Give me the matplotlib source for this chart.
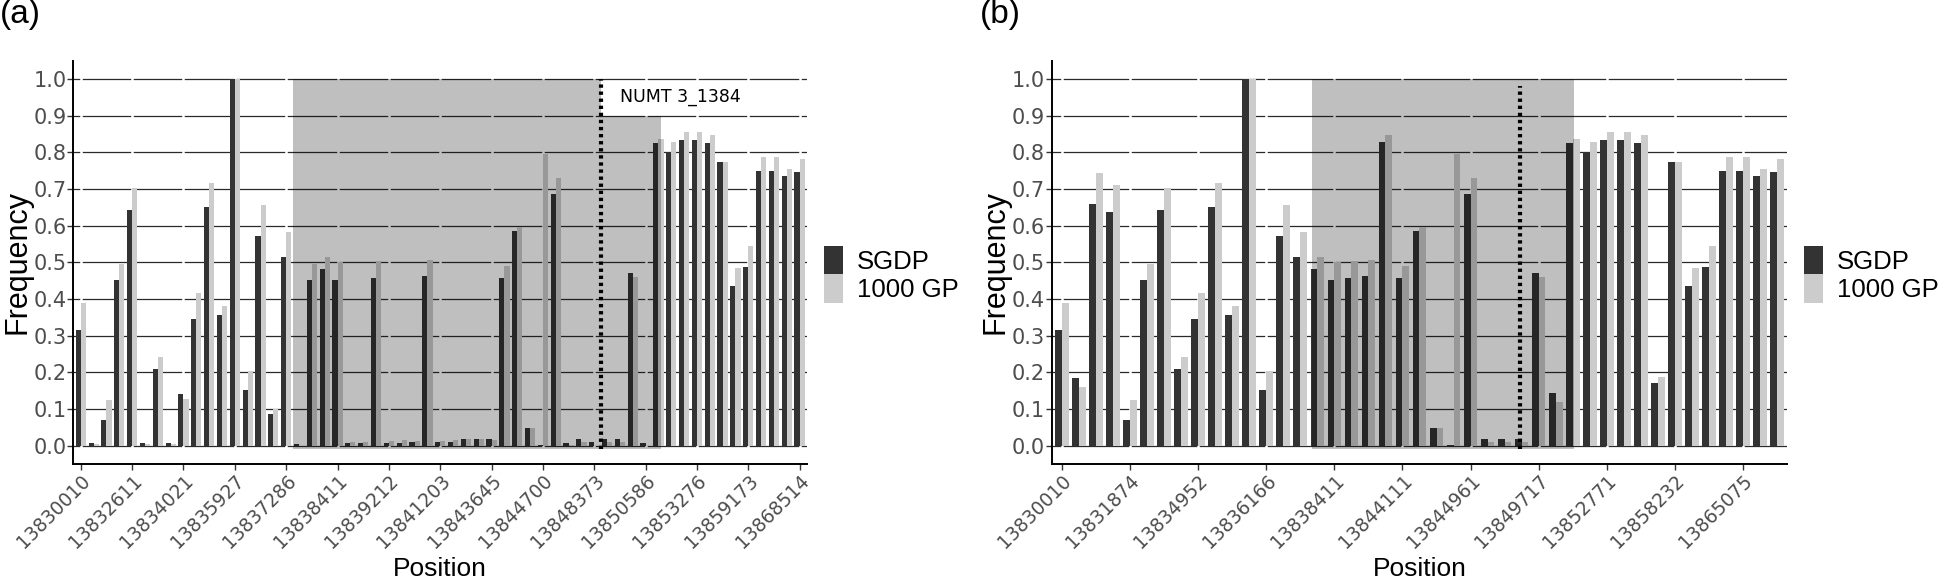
import numpy as np
import matplotlib
matplotlib.use("Agg")
import matplotlib.pyplot as plt
from matplotlib.patches import Rectangle

plt.rcParams["font.family"] = ["Liberation Sans", "DejaVu Sans"]

# ---------------------------------------------------------------------------
# Data
# ---------------------------------------------------------------------------

# panel (a): 57 positions, tick label on every 4th
a_ticklabels = ["13830010", "13832611", "13834021", "13835927", "13837286",
                "13838411", "13839212", "13841203", "13843645", "13844700",
                "13848373", "13850586", "13853276", "13859173", "13868514"]
a_sgdp = [0.315, 0.006, 0.07, 0.452, 0.642, 0.006, 0.208, 0.006, 0.14, 0.345,
          0.651, 0.355, 1.0, 0.152, 0.572, 0.086, 0.515, 0.003, 0.452, 0.482,
          0.452, 0.008, 0.008, 0.457, 0.008, 0.008, 0.01, 0.463, 0.01, 0.01,
          0.018, 0.018, 0.018, 0.456, 0.585, 0.047, 0.002, 0.685, 0.006, 0.018,
          0.009, 0.018, 0.018, 0.47, 0.006, 0.826, 0.80, 0.834, 0.834, 0.825,
          0.774, 0.435, 0.486, 0.748, 0.749, 0.734, 0.746]
a_1kgp = [0.39, 0.005, 0.124, 0.495, 0.702, 0.005, 0.242, 0.005, 0.126, 0.415,
          0.716, 0.381, 1.0, 0.203, 0.655, 0.099, 0.582, 0.0, 0.494, 0.515,
          0.50, 0.01, 0.01, 0.504, 0.012, 0.015, 0.013, 0.505, 0.013, 0.016,
          0.018, 0.018, 0.015, 0.489, 0.597, 0.047, 0.794, 0.731, 0.002, 0.01,
          0.0, 0.01, 0.01, 0.46, 0.0, 0.836, 0.827, 0.855, 0.855, 0.847,
          0.774, 0.485, 0.545, 0.787, 0.787, 0.755, 0.781]
a_region = (16.5, 45.2)      # shaded span (position index units)
a_boundary = 40.5            # dotted line
a_label = "NUMT 3_1384"

# panel (b): 43 positions
b_ticklabels = ["13830010", "13831874", "13834952", "13836166", "13838411",
                "13844111", "13844961", "13849717", "13852771", "13858232",
                "13865075"]
b_sgdp = [0.315, 0.184, 0.658, 0.637, 0.07, 0.452, 0.642, 0.208, 0.345, 0.651,
          0.355, 1.0, 0.152, 0.572, 0.515, 0.482, 0.452, 0.457, 0.463, 0.828,
          0.456, 0.585, 0.047, 0.002, 0.685, 0.018, 0.018, 0.017, 0.47, 0.143,
          0.826, 0.80, 0.834, 0.834, 0.825, 0.17, 0.774, 0.435, 0.486, 0.748,
          0.749, 0.734, 0.746]
b_1kgp = [0.39, 0.159, 0.743, 0.71, 0.124, 0.495, 0.702, 0.242, 0.415, 0.716,
          0.381, 1.0, 0.203, 0.655, 0.582, 0.515, 0.5, 0.504, 0.505, 0.847,
          0.489, 0.597, 0.047, 0.794, 0.731, 0.01, 0.01, 0.01, 0.46, 0.118,
          0.836, 0.827, 0.855, 0.855, 0.847, 0.186, 0.774, 0.485, 0.545, 0.787,
          0.787, 0.755, 0.781]
b_region = (14.67, 30.05)
b_boundary = 26.9

DARK = "#333333"
LIGHT = "#cccccc"
TXT = "#4d4d4d"


def draw_panel(ax, sgdp, kgp, ticklabels, region, boundary,
               dot_top=1.0, label=None):
    n = len(sgdp)
    x = np.arange(n)
    ticks = x[::4]

    ax.set_xlim(-0.58, n - 0.44)
    ax.set_ylim(-0.05, 1.05)

    # horizontal grid, broken by white vertical lines at the ticks
    for yv in np.arange(0, 1.01, 0.1):
        ax.axhline(yv, color="#2a2a2a", lw=0.9, zorder=0.5)
    for t in ticks:
        ax.axvline(t, color="white", lw=1.8, zorder=0.6)

    ax.bar(x - 0.2, sgdp, 0.4, color=DARK, zorder=2, label="SGDP")
    ax.bar(x + 0.2, kgp, 0.4, color=LIGHT, zorder=2, label="1000 GP")

    # shaded NUMT span on top of the bars
    x0, x1 = region
    if label is None:
        ax.add_patch(Rectangle((x0, -0.008), x1 - x0, 1.008, color="black",
                               alpha=0.25, lw=0, zorder=3))
    else:
        ax.add_patch(Rectangle((x0, -0.008), boundary - x0, 1.008,
                               color="black", alpha=0.25, lw=0, zorder=3))
        ax.add_patch(Rectangle((boundary, -0.008), x1 - boundary, 0.908,
                               color="black", alpha=0.25, lw=0, zorder=3))
        ax.text(boundary + 1.5, 0.952, label, family="DejaVu Sans",
                fontsize=12.5, va="center", ha="left", zorder=5)

    ax.plot([boundary, boundary], [-0.008, dot_top], color="black",
            lw=3.0, linestyle=(0, (0.8, 0.9)), zorder=4)

    ax.set_xticks(ticks)
    ax.set_xticklabels(ticklabels, rotation=45, ha="right", va="top",
                       rotation_mode="anchor", fontsize=13.5, color=TXT,
                       family="DejaVu Sans")
    ax.set_yticks(np.arange(0, 1.01, 0.1))
    ax.set_yticklabels([f"{v:.1f}" for v in np.arange(0, 1.01, 0.1)],
                       fontsize=15, color=TXT, family="DejaVu Sans")
    ax.tick_params(axis="y", length=4, width=1, color="#333333", pad=1)
    ax.tick_params(axis="x", length=4, width=1, color="#333333", pad=1)

    for s in ("top", "right"):
        ax.spines[s].set_visible(False)
    for s in ("left", "bottom"):
        ax.spines[s].set_linewidth(1.4)
        ax.spines[s].set_color("black")

    ax.set_xlabel("Position", fontsize=19)
    ax.xaxis.set_label_coords(0.5, -0.23)
    ax.set_ylabel("Frequency", fontsize=22)
    ax.yaxis.set_label_coords(-0.056, 0.5)

    ax.legend(loc="center left", bbox_to_anchor=(1.023, 0.47), frameon=False,
              fontsize=18.5, handlelength=0.75, handleheight=1.35,
              handletextpad=0.55, labelspacing=0.0, borderaxespad=0,
              borderpad=0)


fig = plt.figure(figsize=(19.46, 5.77), dpi=100)
ax_a = fig.add_axes([0.0377, 0.196, 0.3769, 0.699])
ax_b = fig.add_axes([0.5406, 0.196, 0.3775, 0.699])

draw_panel(ax_a, a_sgdp, a_1kgp, a_ticklabels, a_region, a_boundary,
           label=a_label)
draw_panel(ax_b, b_sgdp, b_1kgp, b_ticklabels, b_region, b_boundary,
           dot_top=0.98)

fig.text(0.0, 0.975, "(a)", fontsize=24, ha="left", va="center")
fig.text(980 / 1946, 0.975, "(b)", fontsize=24, ha="left", va="center")

fig.savefig("out.png", dpi=100)
